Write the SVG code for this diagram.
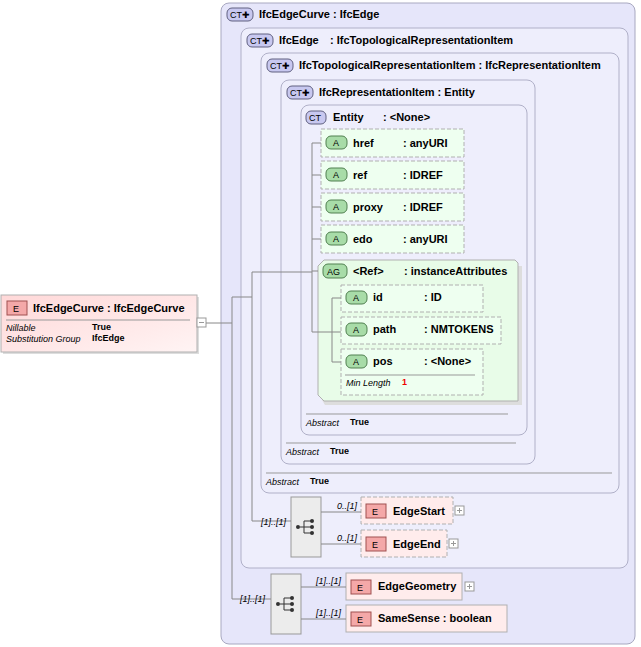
<svg xmlns="http://www.w3.org/2000/svg" width="641" height="647" viewBox="0 0 641 647">
<style>
text{font-family:"Liberation Sans",Arial,sans-serif;font-size:11px;fill:#000}
.b{font-weight:bold}
.s{font-size:9px}
.i{font-style:italic;font-size:9px}
.ct{fill:#e6e6fa;stroke:#a8a8c0;stroke-width:1}
.ctin{fill:#eeeefc;stroke:#b0b0c8}
.att{fill:#eefff0;stroke:#b0b0b0;stroke-dasharray:4,2}
.el{fill:#ffecec;stroke:#b0b0b0}
.eld{fill:#ffecec;stroke:#b0b0b0;stroke-dasharray:4,2}
.ln{stroke:#888;fill:none}
.tag{stroke:#606080;fill:#c8c8f0}
.tagA{stroke:#508050;fill:#a8dca8}
.tagE{stroke:#a05050;fill:#f4a8a8}
.seq{fill:#ececec;stroke:#999}
.pl{fill:#fff;stroke:#999}
</style>
<defs>
<linearGradient id="eg" x1="0" y1="0" x2="1" y2="1"><stop offset="0" stop-color="#ffd8d8"/><stop offset="1" stop-color="#fff4f4"/></linearGradient>
<g id="seqicon"><circle cx="-8" cy="0" r="2" fill="#333"/><path d="M-6 0H-2M-2 -6V6M-2 -6H6M-2 0H6M-2 6H6" stroke="#333" fill="none"/><circle cx="6" cy="-6" r="2" fill="#333"/><circle cx="6" cy="0" r="2" fill="#333"/><circle cx="6" cy="6" r="2" fill="#333"/></g>
<g id="plus"><rect x="0" y="0" width="9" height="9" class="pl"/><path d="M2 4.5H7M4.5 2V7" stroke="#999"/></g>
</defs>

<g id="ct-edgecurve"><rect x="221" y="3" width="414" height="641" rx="8" class="ct"/>
<rect x="227" y="8" width="26" height="13" rx="5" class="tag"/><text x="230" y="18" class="s">CT✚</text>
<text x="259" y="18" class="b">IfcEdgeCurve : IfcEdge</text></g>

<g id="ct-edge"><rect x="241" y="28" width="387" height="540" rx="8" class="ctin"/>
<rect x="247" y="34" width="26" height="13" rx="5" class="tag"/><text x="250" y="44" class="s">CT✚</text>
<text x="279" y="44" class="b">IfcEdge</text><text x="330" y="44" class="b">: IfcTopologicalRepresentationItem</text></g>

<g id="ct-topo"><rect x="261" y="53" width="358" height="440" rx="8" class="ctin"/>
<rect x="267" y="59" width="26" height="13" rx="5" class="tag"/><text x="270" y="69" class="s">CT✚</text>
<text x="299" y="69" class="b">IfcTopologicalRepresentationItem : IfcRepresentationItem</text>
<line x1="266" y1="473" x2="612" y2="473" stroke="#999"/>
<text x="266" y="485" class="i">Abstract</text><text x="310" y="484" class="s b">True</text></g>

<g id="ct-repitem"><rect x="281" y="80" width="254" height="384" rx="8" class="ctin"/>
<rect x="287" y="86" width="26" height="13" rx="5" class="tag"/><text x="290" y="96" class="s">CT✚</text>
<text x="319" y="96" class="b">IfcRepresentationItem : Entity</text>
<line x1="286" y1="443" x2="516" y2="443" stroke="#999"/>
<text x="286" y="455" class="i">Abstract</text><text x="330" y="454" class="s b">True</text></g>

<g id="ct-entity"><rect x="301" y="105" width="226" height="330" rx="8" class="ctin"/>
<rect x="306" y="111" width="20" height="13" rx="5" class="tag"/><text x="309" y="121" class="s">CT</text>
<text x="333" y="121" class="b">Entity</text><text x="383" y="121" class="b">: &lt;None&gt;</text>
<line x1="306" y1="414" x2="508" y2="414" stroke="#999"/>
<text x="306" y="426" class="i">Abstract</text><text x="350" y="425" class="s b">True</text></g>

<g id="a-href"><rect x="321" y="129" width="143" height="28" class="att"/><rect x="326" y="136" width="21" height="13" rx="5" class="tagA"/><text x="333" y="146" class="s">A</text><text x="353" y="147" class="b">href</text><text x="403" y="147" class="b">: anyURI</text></g>
<g id="a-ref"><rect x="321" y="161" width="143" height="28" class="att"/><rect x="326" y="168" width="21" height="13" rx="5" class="tagA"/><text x="333" y="178" class="s">A</text><text x="353" y="179" class="b">ref</text><text x="403" y="179" class="b">: IDREF</text></g>
<g id="a-proxy"><rect x="321" y="193" width="143" height="28" class="att"/><rect x="326" y="200" width="21" height="13" rx="5" class="tagA"/><text x="333" y="210" class="s">A</text><text x="353" y="211" class="b">proxy</text><text x="403" y="211" class="b">: IDREF</text></g>
<g id="a-edo"><rect x="321" y="225" width="143" height="28" class="att"/><rect x="326" y="232" width="21" height="13" rx="5" class="tagA"/><text x="333" y="242" class="s">A</text><text x="353" y="243" class="b">edo</text><text x="403" y="243" class="b">: anyURI</text></g>

<g id="ag-ref">
<path d="M325 266H522V405H325L322 400Z" fill="#ddd" stroke="none"/>
<path d="M324 260H515L518 263V401H324L318 395V266Z" fill="#e8fce8" stroke="#b0b0b0"/>
<rect x="323" y="264" width="24" height="14" rx="5" class="tagA"/><text x="327" y="275" class="s">AG</text>
<text x="353" y="275" class="b">&lt;Ref&gt;</text><text x="404" y="275" class="b">: instanceAttributes</text></g>
<g id="a-id"><rect x="341" y="285" width="142" height="27" class="att"/><rect x="346" y="291" width="21" height="13" rx="5" class="tagA"/><text x="353" y="301" class="s">A</text><text x="373" y="301" class="b">id</text><text x="424" y="301" class="b">: ID</text></g>
<g id="a-path"><rect x="341" y="317" width="160" height="27" class="att"/><rect x="346" y="323" width="21" height="13" rx="5" class="tagA"/><text x="353" y="333" class="s">A</text><text x="373" y="333" class="b">path</text><text x="424" y="333" class="b">: NMTOKENS</text></g>
<g id="a-pos"><rect x="341" y="349" width="142" height="46" class="att"/><rect x="346" y="355" width="21" height="13" rx="5" class="tagA"/><text x="353" y="365" class="s">A</text><text x="373" y="365" class="b">pos</text><text x="424" y="365" class="b">: &lt;None&gt;</text>
<line x1="345" y1="375" x2="475" y2="375" stroke="#999"/><text x="346" y="386" class="i">Min Length</text><text x="402" y="385" class="s b" style="fill:#e00">1</text></g>

<g id="e-edgecurve"><rect x="3" y="297" width="196" height="57" fill="#ddd"/><rect x="1" y="295" width="196" height="57" fill="url(#eg)" stroke="#b0b0b0"/>
<rect x="7" y="301" width="20" height="14" class="tagE"/><text x="13" y="312" class="s">E</text>
<text x="33" y="312" class="b">IfcEdgeCurve : IfcEdgeCurve</text>
<line x1="6" y1="320" x2="190" y2="320" stroke="#999"/>
<text x="6" y="331" class="i">Nillable</text><text x="92" y="330" class="s b">True</text>
<text x="6" y="342" class="i">Substitution Group</text><text x="92" y="341" class="s b">IfcEdge</text>
<rect x="197" y="318" width="9" height="9" class="pl"/><path d="M199 322.5H204" stroke="#999"/></g>

<g id="seq1"><rect x="291" y="497" width="30" height="60" class="seq"/><use href="#seqicon" x="306" y="527"/></g>
<g id="seq2"><rect x="271" y="574" width="30" height="60" class="seq"/><use href="#seqicon" x="286" y="604"/></g>

<g id="e-edgestart"><rect x="361" y="497" width="92" height="27" class="eld"/><rect x="366" y="504" width="20" height="14" class="tagE"/><text x="372" y="515" class="s">E</text><text x="393" y="515" class="b">EdgeStart</text><use href="#plus" x="455" y="506"/></g>
<g id="e-edgeend"><rect x="361" y="530" width="86" height="27" class="eld"/><rect x="366" y="537" width="20" height="14" class="tagE"/><text x="372" y="548" class="s">E</text><text x="393" y="548" class="b">EdgeEnd</text><use href="#plus" x="449" y="539"/></g>
<g id="e-edgegeometry"><rect x="346" y="573" width="116" height="27" class="el"/><rect x="351" y="580" width="20" height="14" class="tagE"/><text x="357" y="591" class="s">E</text><text x="378" y="590" class="b">EdgeGeometry</text><use href="#plus" x="465" y="582"/></g>
<g id="e-samesense"><rect x="346" y="605" width="161" height="27" class="el"/><rect x="351" y="612" width="20" height="14" class="tagE"/><text x="357" y="623" class="s">E</text><text x="378" y="622" class="b">SameSense : boolean</text></g>

<g id="connectors">
<path class="ln" d="M206 323H232M232 297V599H271M232 297H252M252 272V521H291M252 272H312M312 143V332H341M312 143H321M312 175H321M312 207H321M312 239H321M312 271H318M332 298V362M332 298H341M332 362H341"/>
<path class="ln" d="M321 512H361M321 544H361M301 587H346M301 619H346"/>
<text x="337" y="509" class="i">0..[1]</text><text x="337" y="541" class="i">0..[1]</text>
<text x="316" y="584" class="i">[1]..[1]</text><text x="316" y="616" class="i">[1]..[1]</text>
<text x="261" y="525" class="i">[1]..[1]</text><text x="240" y="602" class="i">[1]..[1]</text>
</g>
</svg>
